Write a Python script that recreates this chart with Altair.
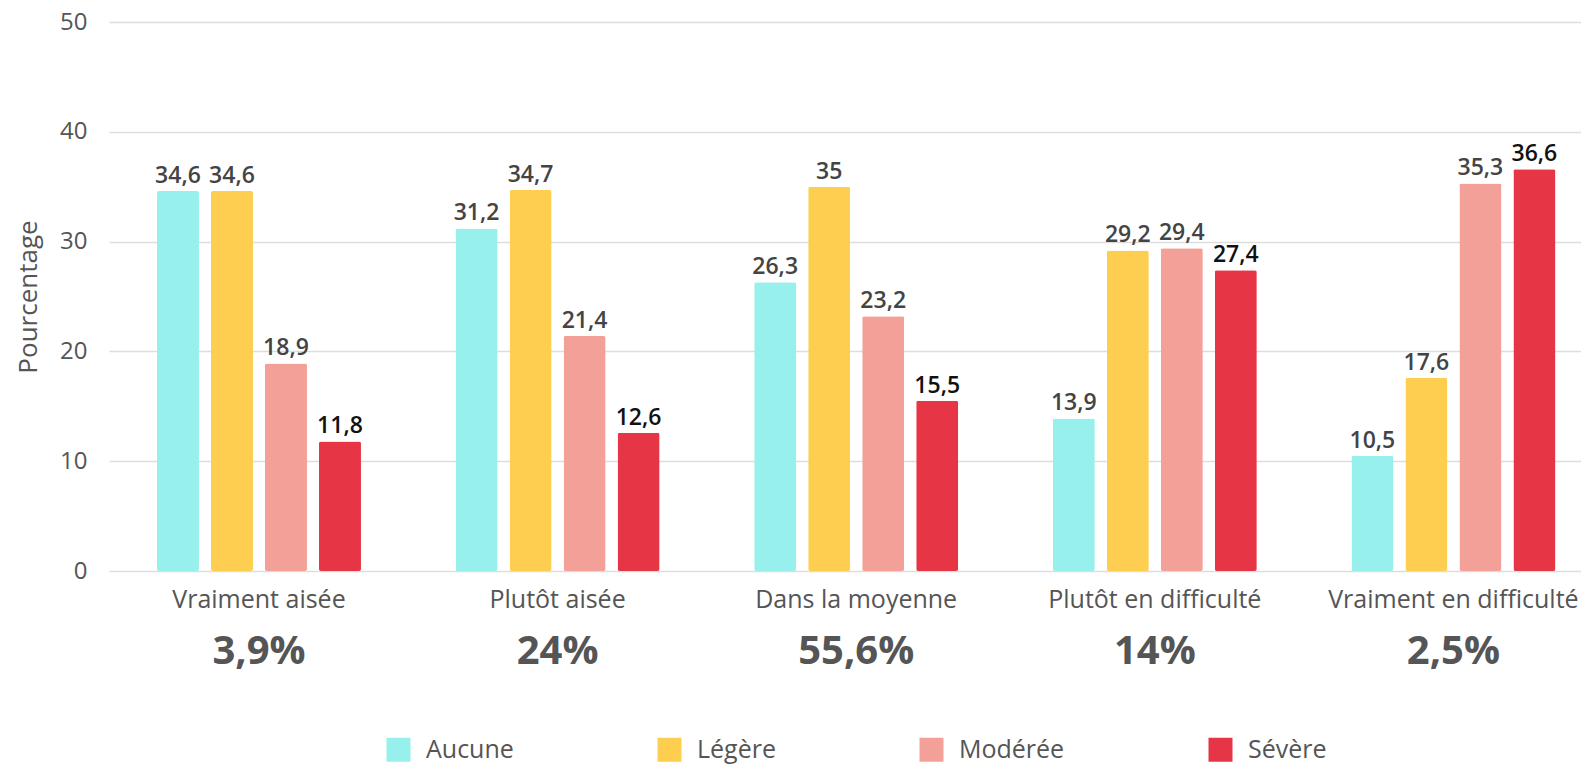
import altair as alt
import pandas as pd

categories = ["Vraiment aisée", "Plutôt aisée", "Dans la moyenne", "Plutôt en difficulté", "Vraiment en difficulté"]
shares = ["3,9%", "24%", "55,6%", "14%", "2,5%"]
severities = ["Aucune", "Légère", "Modérée", "Sévère"]
aucune = [34.6, 31.2, 26.3, 13.9, 10.5]
legere = [34.6, 34.7, 35.0, 29.2, 17.6]
moderee = [18.9, 21.4, 23.2, 29.4, 35.3]
severe = [11.8, 12.6, 15.5, 27.4, 36.6]
colors = ["#98F0EC", "#FDCE4F", "#F2A098", "#E63645"]

series = {"Aucune": aucune, "Légère": legere, "Modérée": moderee, "Sévère": severe}
rows = []
for sev in severities:
    for cat, v in zip(categories, series[sev]):
        rows.append({"cat": cat, "sev": sev, "val": v,
                     "lab": (f"{v:g}").replace(".", ",")})
df = pd.DataFrame(rows)
df_share = pd.DataFrame({"cat": categories, "share": shares})

FONT = "Open Sans"

xscale = alt.Scale(domain=categories, paddingInner=0.3168, paddingOuter=0.1232, align=0.652)
x = alt.X("cat:N", scale=xscale, sort=categories,
          axis=alt.Axis(title=None, labelAngle=0, labelFontSize=25, labelColor="#555555",
                        labelPadding=16, ticks=False, domain=False, labelFont=FONT,
                        labelLimit=400))
xoff = alt.XOffset("sev:N", sort=severities,
                   scale=alt.Scale(domain=severities, paddingInner=0.2222, paddingOuter=0))
y = alt.Y("val:Q", scale=alt.Scale(domain=[0, 50]),
          axis=alt.Axis(title="Pourcentage", values=[0, 10, 20, 30, 40, 50], labelFontSize=24,
                        labelColor="#555555", labelPadding=22, ticks=False, domain=False,
                        titleFontSize=26, titleColor="#555555", titleFontWeight="normal",
                        titlePadding=18, gridColor="#dddddd", gridWidth=1.5, labelFont=FONT,
                        titleFont=FONT))

bars = alt.Chart(df).mark_bar(cornerRadius=2).encode(
    x=x, xOffset=xoff, y=y,
    color=alt.Color("sev:N", sort=severities,
                    scale=alt.Scale(domain=severities, range=colors),
                    legend=alt.Legend(title=None, orient="none", legendX=277, legendY=715,
                                      direction="horizontal", symbolType="square",
                                      symbolSize=576, symbolStrokeWidth=0, labelFontSize=25,
                                      labelColor="#555555", labelFont=FONT, columnPadding=143,
                                      labelOffset=15)),
)

labels = alt.Chart(df).mark_text(baseline="alphabetic", dy=-8, fontSize=23, fontWeight=600,
                                 font=FONT).encode(
    x=alt.X("cat:N", scale=xscale, sort=categories),
    xOffset=xoff,
    y=alt.Y("val:Q"),
    text="lab:N",
    color=alt.condition(alt.datum.sev == "Sévère", alt.value("#111111"), alt.value("#444444")),
)

share_txt = alt.Chart(df_share).mark_text(baseline="middle", fontSize=40, fontWeight="bold",
                                          color="#555555", font=FONT).encode(
    x=alt.X("cat:N", scale=xscale, sort=categories),
    y=alt.value(630),
    text="share:N",
)

chart = alt.layer(bars, labels, share_txt).properties(
    width=1472, height=549,
    autosize=alt.AutoSizeParams(type="none"),
    padding={"left": 101, "top": 14, "right": 0, "bottom": 195},
).configure_view(stroke=None)

chart.save("out.html", embed_options={"renderer": "svg", "actions": False})
